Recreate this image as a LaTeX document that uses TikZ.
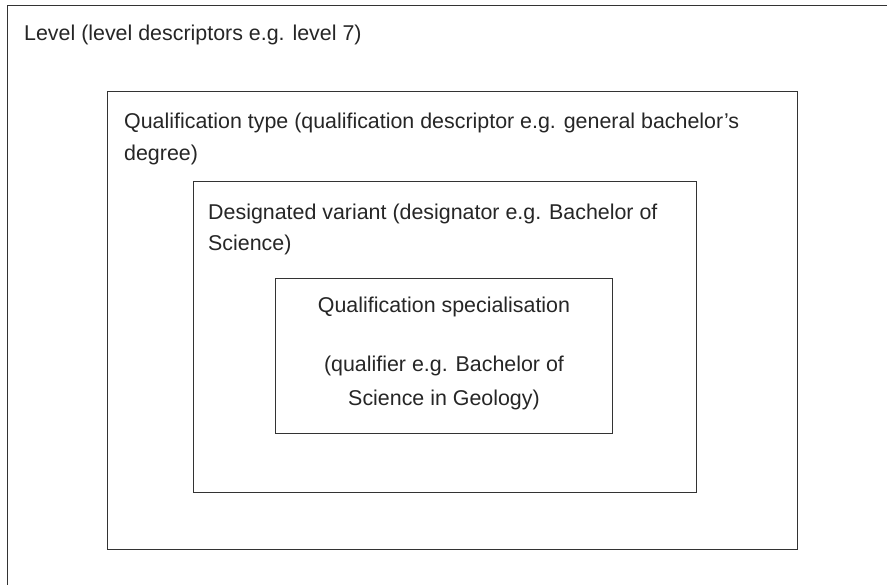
\documentclass[tikz,border=0pt]{standalone}
\usepackage{fontspec}
\setmainfont{Liberation Sans}
\begin{document}
\begin{tikzpicture}[x=1pt,y=-1pt,
  boxframe/.style={draw=black!80, line width=1.3pt, inner sep=0pt, anchor=north west},
  lbl/.style={text=black!85, font=\fontsize{21.4}{32}\selectfont, inner sep=0pt, anchor=base west},
  clbl/.style={text=black!85, font=\fontsize{21.4}{32}\selectfont, inner sep=0pt, anchor=base}]
\useasboundingbox (0,0) rectangle (887,585);
\clip (0,0) rectangle (887,585);
\fill[white] (0,0) rectangle (887,585);
% boxes
\node[boxframe, minimum width=900pt, minimum height=600pt] (level) at (7,5) {};
\node[boxframe, minimum width=690pt, minimum height=458pt] (qtype) at (107,91) {};
\node[boxframe, minimum width=503pt, minimum height=311pt] (dvar) at (193,181) {};
\node[boxframe, minimum width=337pt, minimum height=155pt] (qspec) at (275,278) {};
% texts
\node[lbl] (tlevel) at (24,41) {Level (level descriptors e.g. level 7)};
\node[lbl] (tq1) at (124,129) {Qualification type (qualification descriptor e.g. general bachelor's};
\node[lbl] (tq2) at (124,161) {degree)};
\node[lbl] (td1) at (208,220) {Designated variant (designator e.g. Bachelor of};
\node[lbl] (td2) at (208,251) {Science)};
\node[clbl] (ts1) at (444,313) {Qualification specialisation};
\node[clbl] (ts2) at (444,372) {(qualifier e.g. Bachelor of};
\node[clbl] (ts3) at (444,406) {Science in Geology)};
\end{tikzpicture}
\end{document}
